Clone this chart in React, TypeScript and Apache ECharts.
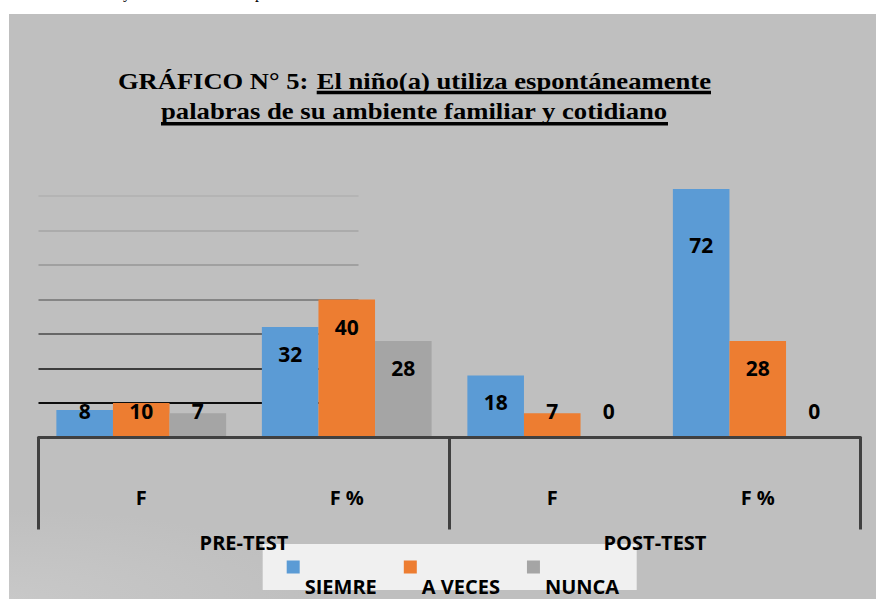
import React, { useEffect, useRef } from 'react';
import * as echarts from 'echarts';

// ---- data ----
const groups = ['PRE-TEST', 'POST-TEST'];
const subCategories = ['F', 'F %', 'F', 'F %'];
const seriesNames = ['SIEMRE', 'A VECES', 'NUNCA'];
const siempre = [8, 32, 18, 72];
const aVeces = [10, 40, 7, 28];
const nunca = [7, 28, 0, 0];
const yMin = 0;
const yMax = 80;
const yInterval = 10;
const titleLine1a = 'GRÁFICO N° 5:';
const titleLine1b = 'El niño(a) utiliza espontáneamente';
const titleLine2 = 'palabras de su ambiente familiar y cotidiano';

// ---- styles ----
const COLORS = ['#5b9bd5', '#ed7d31', '#a5a5a5'];
const GRID_COLORS = ['#404040', '#0d0d0d', '#3c3c3c', '#666666', '#858585', '#a0a0a0', '#ababab', '#b4b4b4', 'rgba(0,0,0,0)'];
const AXIS_COLOR = '#404040';
const SANS = 'Open Sans';
const TITLE_FONT = 'bold 24px "Liberation Serif"';
const labelNudge: Record<string, number> = { '0-3': 45.5 };

function measure(text: string, font: string): number {
  const ctx = document.createElement('canvas').getContext('2d');
  if (!ctx) return 1;
  ctx.font = font;
  return ctx.measureText(text).width || 1;
}

function buildData(vals: number[], sIdx: number) {
  return vals.map((v, i) => {
    const key = `${sIdx}-${i}`;
    const inside = v >= 15;
    return {
      value: v,
      label: inside
        ? { position: 'insideTop', distance: labelNudge[key] ?? 16.5 }
        : { position: 'insideBottom', distance: 16 },
    };
  });
}

export default function App() {
  const ref = useRef<HTMLDivElement>(null);

  useEffect(() => {
    if (!ref.current) return;
    const chart = echarts.init(ref.current, null, { renderer: 'svg' });

    const wA = measure(titleLine1a, TITLE_FONT);
    const wB = measure(titleLine1b, TITLE_FONT);
    const w2 = measure(titleLine2, TITLE_FONT);
    const central = 0.3375 * 24;

    const seriesVals = [siempre, aVeces, nunca];

    const option: any = {
      animation: false,
      backgroundColor: 'transparent',
      textStyle: { fontFamily: SANS },
      grid: [
        { left: 38.5, right: 15.5, top: 161.5, bottom: 161.5 },
        { left: 38.5, width: 320, top: 161.5, bottom: 161.5 },
      ],
      xAxis: [
        {
          type: 'category',
          gridIndex: 0,
          data: subCategories,
          position: 'bottom',
          z: 5,
          axisLine: { show: true, lineStyle: { color: AXIS_COLOR, width: 3 } },
          axisTick: { show: false },
          axisLabel: {
            margin: 50,
            color: '#000',
            fontFamily: SANS,
            fontWeight: 'bold',
            fontSize: 20,
          },
        },
        {
          type: 'category',
          gridIndex: 0,
          data: groups,
          position: 'bottom',
          offset: 92,
          z: 5,
          axisLine: { show: false },
          axisTick: {
            show: true,
            inside: true,
            length: 92,
            interval: 0,
            lineStyle: { color: AXIS_COLOR, width: 3 },
          },
          axisLabel: {
            margin: 3,
            color: '#000',
            fontFamily: SANS,
            fontWeight: 'bold',
            fontSize: 20,
          },
        },
        { type: 'value', gridIndex: 1, show: false },
      ],
      yAxis: [
        { type: 'value', gridIndex: 0, min: yMin, max: yMax, interval: yInterval, show: false },
        {
          type: 'value',
          gridIndex: 1,
          min: yMin,
          max: yMax,
          interval: yInterval,
          axisLine: { show: false },
          axisTick: { show: false },
          axisLabel: { show: false },
          splitLine: { show: true, lineStyle: { color: GRID_COLORS, width: 2 } },
        },
      ],
      legend: {
        data: seriesNames,
        left: 286.7,
        top: 549,
        padding: 0,
        itemWidth: 13,
        itemHeight: 13,
        itemGap: 27,
        icon: 'rect',
        formatter: (name: string) => '{gap|}\n{t|' + name + '}',
        textStyle: {
          fontFamily: SANS,
          fontWeight: 'bold',
          fontSize: 20,
          color: '#000',
          rich: {
            gap: { lineHeight: 39, fontSize: 20 },
            t: { lineHeight: 16, fontSize: 20, fontFamily: SANS, fontWeight: 'bold', color: '#000' },
          },
        },
      },
      series: seriesNames.map((name, sIdx) => ({
        name,
        type: 'bar',
        xAxisIndex: 0,
        yAxisIndex: 0,
        barGap: '0%',
        barCategoryGap: '17.4%',
        itemStyle: { color: COLORS[sIdx] },
        label: {
          show: true,
          color: '#000',
          fontFamily: SANS,
          fontWeight: 'bold',
          fontSize: 21,
        },
        data: buildData(seriesVals[sIdx], sIdx),
      })),
      graphic: [
        {
          type: 'rect',
          z: 0,
          shape: { x: 262.7, y: 544, width: 374, height: 46 },
          style: { fill: '#f0f0f0' },
        },
        {
          type: 'text',
          z: 10,
          x: 123,
          y: -7.5,
          style: { text: 'y', font: '16px "Liberation Serif"', fill: '#000', textVerticalAlign: 'middle' },
        },
        {
          type: 'text',
          z: 10,
          x: 255,
          y: -7.5,
          style: { text: 'p', font: '16px "Liberation Serif"', fill: '#000', textVerticalAlign: 'middle' },
        },
        {
          type: 'text',
          z: 10,
          x: 118,
          y: 88.3 - central,
          scaleX: 190.3 / wA,
          style: { text: titleLine1a, font: TITLE_FONT, fill: '#000', textAlign: 'left', textVerticalAlign: 'middle' },
        },
        {
          type: 'text',
          z: 10,
          x: 316.7,
          y: 88.3 - central,
          scaleX: 394.3 / wB,
          style: { text: titleLine1b, font: TITLE_FONT, fill: '#000', textAlign: 'left', textVerticalAlign: 'middle' },
        },
        {
          type: 'text',
          z: 10,
          x: 161,
          y: 118.3 - central,
          scaleX: 507 / w2,
          style: { text: titleLine2, font: TITLE_FONT, fill: '#000', textAlign: 'left', textVerticalAlign: 'middle' },
        },
        {
          type: 'rect',
          z: 10,
          shape: { x: 316.7, y: 90.8, width: 394.3, height: 3.5 },
          style: { fill: '#000' },
        },
        {
          type: 'rect',
          z: 10,
          shape: { x: 161, y: 121.9, width: 507, height: 3.6 },
          style: { fill: '#000' },
        },
      ],
    };

    chart.setOption(option);
    return () => chart.dispose();
  }, []);

  return (
    <div style={{ position: 'fixed', left: 0, top: 0, width: 876, height: 599, background: '#ffffff', overflow: 'hidden' }}>
      <div
        style={{
          position: 'absolute',
          left: 9,
          top: 14,
          right: 0,
          bottom: 0,
          background: 'radial-gradient(ellipse 320px 90px at 0% 100%, #c8c8c8 0%, #bfbfbf 100%)',
          backgroundColor: '#bfbfbf',
        }}
      />
      <div ref={ref} style={{ position: 'absolute', left: 0, top: 0, width: 876, height: 599 }} />
    </div>
  );
}
